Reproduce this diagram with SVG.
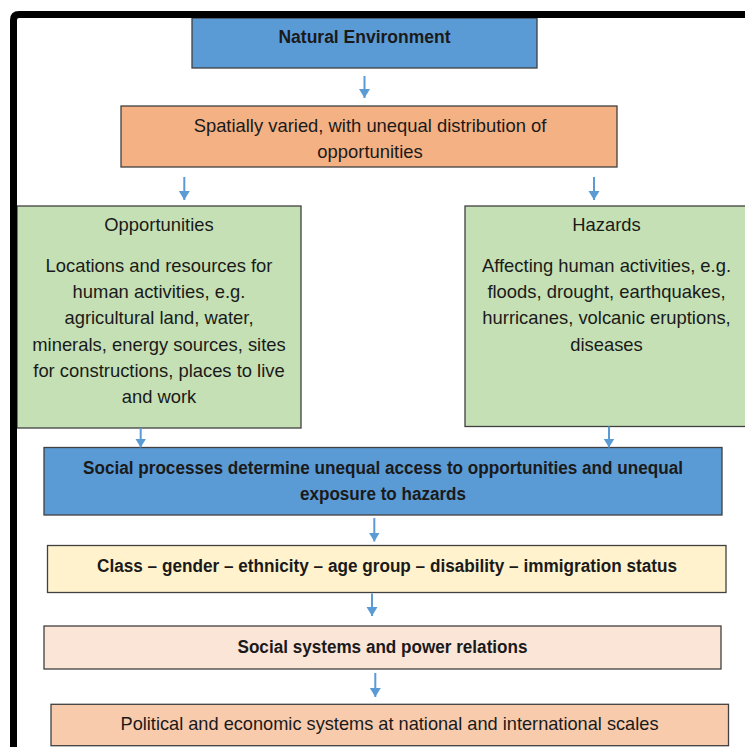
<svg xmlns="http://www.w3.org/2000/svg" width="745" height="747" viewBox="0 0 745 747">
  <style>
    .box { stroke: #404040; stroke-width: 1.3; }
    .blue { fill: #5B9BD5; }
    .orange { fill: #F4B183; }
    .green { fill: #C5E0B4; }
    .cream { fill: #FFF2CC; }
    .peach { fill: #FBE5D6; }
    .salmon { fill: #F8CBAD; }
    text { font-family: "Liberation Sans", Arial, sans-serif; fill: #1a1a1a; text-anchor: middle; }
    .t { font-size: 18.4px; }
    .b { font-size: 17.5px; font-weight: bold; }
    .conn line { stroke: #5B9BD5; stroke-width: 2; marker-end: url(#head); }
  </style>
  <defs>
    <marker id="head" markerUnits="userSpaceOnUse" markerWidth="12" markerHeight="12" viewBox="0 0 12 12" refX="9" refY="6" orient="auto">
      <path d="M0,0.5 L9,6 L0,11.5 Z" fill="#5B9BD5"/>
    </marker>
  </defs>
  <rect width="745" height="747" fill="#ffffff"/>

  <g id="natural-environment">
    <rect class="box blue" x="192" y="18" width="345" height="50"/>
    <text class="b" x="364.5" y="43">Natural Environment</text>
  </g>

  <g id="spatially-varied">
    <rect class="box orange" x="121" y="106" width="496" height="61"/>
    <text class="t" x="370" y="132">Spatially varied, with unequal distribution of</text>
    <text class="t" x="370" y="158">opportunities</text>
  </g>

  <g id="opportunities">
    <rect class="box green" x="17" y="206" width="284" height="222"/>
    <text class="t" x="159" y="231">Opportunities</text>
    <text class="t" x="159" y="272">Locations and resources for</text>
    <text class="t" x="159" y="298.2">human activities, e.g.</text>
    <text class="t" x="159" y="324.4">agricultural land, water,</text>
    <text class="t" x="159" y="350.6">minerals, energy sources, sites</text>
    <text class="t" x="159" y="376.8">for constructions, places to live</text>
    <text class="t" x="159" y="403">and work</text>
  </g>

  <g id="hazards">
    <rect class="box green" x="465" y="206" width="284" height="220.5"/>
    <text class="t" x="606.5" y="231">Hazards</text>
    <text class="t" x="606.5" y="272">Affecting human activities, e.g.</text>
    <text class="t" x="606.5" y="298.2">floods, drought, earthquakes,</text>
    <text class="t" x="606.5" y="324.4">hurricanes, volcanic eruptions,</text>
    <text class="t" x="606.5" y="350.6">diseases</text>
  </g>

  <g id="social-processes">
    <rect class="box blue" x="44" y="447.5" width="678" height="67.5"/>
    <text class="b" x="383" y="474" textLength="600" lengthAdjust="spacingAndGlyphs">Social processes determine unequal access to opportunities and unequal</text>
    <text class="b" x="383" y="500" textLength="166" lengthAdjust="spacingAndGlyphs">exposure to hazards</text>
  </g>

  <g id="social-categories">
    <rect class="box cream" x="47.5" y="545.5" width="678.5" height="47"/>
    <text class="b" x="387" y="572" textLength="580" lengthAdjust="spacingAndGlyphs">Class – gender – ethnicity – age group – disability – immigration status</text>
  </g>

  <g id="social-systems">
    <rect class="box peach" x="44" y="626" width="677" height="43"/>
    <text class="b" x="382.5" y="652.5" textLength="290" lengthAdjust="spacingAndGlyphs">Social systems and power relations</text>
  </g>

  <g id="political-economic">
    <rect class="box salmon" x="51" y="704.3" width="677.5" height="41.4"/>
    <text class="t" x="389.5" y="730" textLength="538" lengthAdjust="spacingAndGlyphs">Political and economic systems at national and international scales</text>
  </g>

  <g id="connectors" class="conn">
    <line x1="364.5" y1="76" x2="364.5" y2="98"/>
    <line x1="184.3" y1="177" x2="184.3" y2="200"/>
    <line x1="594" y1="177" x2="594" y2="200"/>
    <line x1="140.7" y1="428" x2="140.7" y2="447.5"/>
    <line x1="609" y1="426.5" x2="609" y2="447.5"/>
    <line x1="374.3" y1="518" x2="374.3" y2="541.5"/>
    <line x1="372" y1="593.5" x2="372" y2="616"/>
    <line x1="375.3" y1="673" x2="375.3" y2="697"/>
  </g>

  <!-- page frame, open on the right and bottom -->
  <path d="M13.5,760 L13.5,20 Q13.5,14.5 19,14.5 L760,14.5" fill="none" stroke="#000000" stroke-width="7"/>
</svg>
